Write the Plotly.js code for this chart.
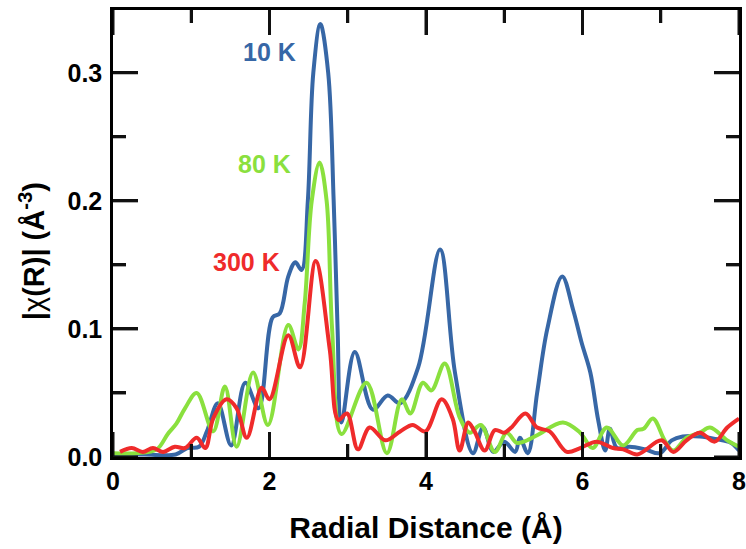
<!DOCTYPE html>
<html>
<head>
<meta charset="utf-8">
<script src="https://cdn.plot.ly/plotly-3.0.1.min.js"></script>
<style>html,body{margin:0;padding:0;background:#fff;}#chart{width:746px;height:549px;}</style>
</head>
<body>
<div id="chart"></div>
<script>
// 10 K
const r10 = [0.0,0.4,0.8,0.95,1.1,1.2,1.34,1.51,1.69,1.86,2.04,2.13,2.24,2.33,2.41,2.49,2.56,2.65,2.75,2.82,2.87,2.92,3.09,3.32,3.51,3.67,3.90,4.18,4.37,4.60,4.73,4.86,5.0,5.14,5.2,5.3,5.42,5.55,5.74,5.88,5.99,6.1,6.2,6.29,6.35,6.44,6.6,6.8,6.99,7.14,7.28,7.5,7.7,7.9,8.0];
const v10 = [0.002,0.002,0.002,0.007,0.008,0.02,0.042,0.009,0.058,0.038,0.109,0.112,0.141,0.152,0.146,0.2,0.3,0.338,0.3,0.2,0.1,0.027,0.082,0.037,0.048,0.042,0.070,0.162,0.066,0.003,0.023,0.004,0.012,0.004,0.015,0.003,0.05,0.10,0.141,0.115,0.089,0.066,0.029,0.005,0.022,0.007,0.008,0.006,0.003,0.013,0.016,0.016,0.014,0.011,0.005];
// 80 K
const r80 = [0.0,0.3,0.56,0.7,0.81,0.92,1.07,1.28,1.43,1.58,1.79,1.98,2.24,2.37,2.45,2.54,2.64,2.73,2.8,2.92,3.24,3.5,3.69,3.8,3.96,4.07,4.24,4.43,4.56,4.7,4.88,5.03,5.16,5.25,5.42,5.75,5.97,6.13,6.31,6.52,6.7,6.78,6.9,7.05,7.16,7.33,7.5,7.63,7.85,8.0];
const v80 = [0.003,0.003,0.006,0.018,0.026,0.038,0.05,0.02,0.055,0.008,0.066,0.025,0.103,0.084,0.12,0.2,0.23,0.2,0.1,0.018,0.058,0.003,0.045,0.034,0.058,0.052,0.073,0.031,0.019,0.025,0.004,0.019,0.011,0.012,0.017,0.027,0.019,0.007,0.023,0.009,0.021,0.022,0.03,0.013,0.005,0.015,0.019,0.023,0.013,0.008];
// 300 K
const r300 = [0.09,0.24,0.38,0.51,0.64,0.79,0.92,1.07,1.18,1.28,1.45,1.58,1.71,1.9,2.0,2.24,2.39,2.59,2.77,2.88,2.99,3.13,3.28,3.48,3.67,3.83,3.99,4.2,4.34,4.43,4.54,4.62,4.75,4.88,5.0,5.09,5.27,5.42,5.58,5.8,5.97,6.18,6.39,6.52,6.7,7.01,7.16,7.33,7.5,7.69,7.85,8.0];
const v300 = [0.004,0.007,0.004,0.007,0.004,0.008,0.007,0.015,0.007,0.03,0.045,0.038,0.015,0.054,0.045,0.095,0.07,0.153,0.084,0.029,0.034,0.006,0.023,0.013,0.02,0.025,0.02,0.045,0.03,0.005,0.027,0.02,0.005,0.021,0.019,0.023,0.034,0.023,0.02,0.004,0.007,0.012,0.007,0.006,0.002,0.013,0.004,0.013,0.019,0.012,0.023,0.03];

const seriesNames = ['10 K','80 K','300 K'];
const colors = ['#3767a6','#8ae03e','#ef2b2b'];
const xTicks = [0,2,4,6,8];
const xMinorTicks = [1,3,5,7];
const yTicks = [0,0.1,0.2,0.3];
const yMinorTicks = [0.05,0.15,0.25];
const yTickText = ['0.0','0.1','0.2','0.3'];
const xRange = [0,8], yRange = [0,0.349];

const xs = [r10, r80, r300], ys = [v10, v80, v300];
const traces = xs.map((x,i)=>({
  x: x, y: ys[i], type:'scatter', mode:'lines', name: seriesNames[i],
  line:{color:colors[i], width:4, shape:'spline', smoothing:1}
}));

const font = 'Liberation Sans, Arial, sans-serif';
const axisCommon = {
  showline:true, mirror:'ticks', linecolor:'#000', linewidth:2.5,
  ticks:'inside', ticklen:25, tickwidth:3, tickcolor:'#111',
  showgrid:false, zeroline:false,
  ticklabeloverflow:'allow',
  tickfont:{family:font, size:25, color:'#000'}
};

// tick marks on all four edges of the frame (same positions as the axis ticks)
const tl = {color:'#111', width:3};
const xTickShape = (v,len,top)=>({type:'line', xref:'x', yref:'paper', x0:v, x1:v,
  ysizemode:'pixel', yanchor: top?1:0, y0:0, y1: top?-len:len, line:tl, layer:'above'});
const yTickShape = (v,len,right)=>({type:'line', yref:'y', xref:'paper', y0:v, y1:v,
  xsizemode:'pixel', xanchor: right?1:0, x0:0, x1: right?-len:len, line:tl, layer:'above'});
const shapes = [].concat(
  xTicks.map(v=>xTickShape(v,25,true)), xMinorTicks.map(v=>xTickShape(v,13,true)),
  xTicks.map(v=>xTickShape(v,25,false)), xMinorTicks.map(v=>xTickShape(v,13,false)),
  yTicks.map(v=>yTickShape(v,25,true)), yMinorTicks.map(v=>yTickShape(v,13,true)),
  yTicks.map(v=>yTickShape(v,25,false)), yMinorTicks.map(v=>yTickShape(v,13,false))
);

const layout = {
  width:746, height:549,
  margin:{l:113, r:7, t:10, b:92},
  paper_bgcolor:'#fff', plot_bgcolor:'#fff',
  showlegend:false,
  xaxis: Object.assign({}, axisCommon, {
    range:xRange, tickvals:xTicks, ticktext:xTicks.map(v=>'<b>'+v+'</b>'),
    minor:{tickvals:xMinorTicks, ticklen:13, tickwidth:3, tickcolor:'#111', ticks:'inside'},
    title:{text:'<b>Radial Distance (Å)</b>', font:{family:font, size:30, color:'#000'}, standoff:24}
  }),
  yaxis: Object.assign({}, axisCommon, {
    range:yRange, tickvals:yTicks, ticktext:yTickText.map(t=>'<b>'+t+'</b>'), ticklabelstandoff:3,
    minor:{tickvals:yMinorTicks, ticklen:13, tickwidth:3, tickcolor:'#111', ticks:'inside'}
  }),
  shapes: shapes,
  annotations: [
    {x:2.006, y:0.316, text:'<b>10 K</b>', color:colors[0]},
    {x:1.93, y:0.229, text:'<b>80 K</b>', color:colors[1]},
    {x:1.71, y:0.152, text:'<b>300 K</b>', color:colors[2]}
  ].map(a=>({xref:'x', yref:'y', x:a.x, y:a.y, text:a.text, showarrow:false, xanchor:'center', yanchor:'middle',
             font:{family:font, size:25, color:a.color}})).concat([
    {xref:'paper', yref:'paper', x:-0.129, y:0.461, textangle:-90, showarrow:false,
     xanchor:'center', yanchor:'middle',
     text:'<b>|</b>χ<b>(R)| (Å</b><sup><b>-3</b></sup><b>)</b>',
     font:{family:font, size:29, color:'#000'}}
  ])
};
Plotly.newPlot('chart', traces, layout, {displayModeBar:false});
</script>
</body>
</html>
